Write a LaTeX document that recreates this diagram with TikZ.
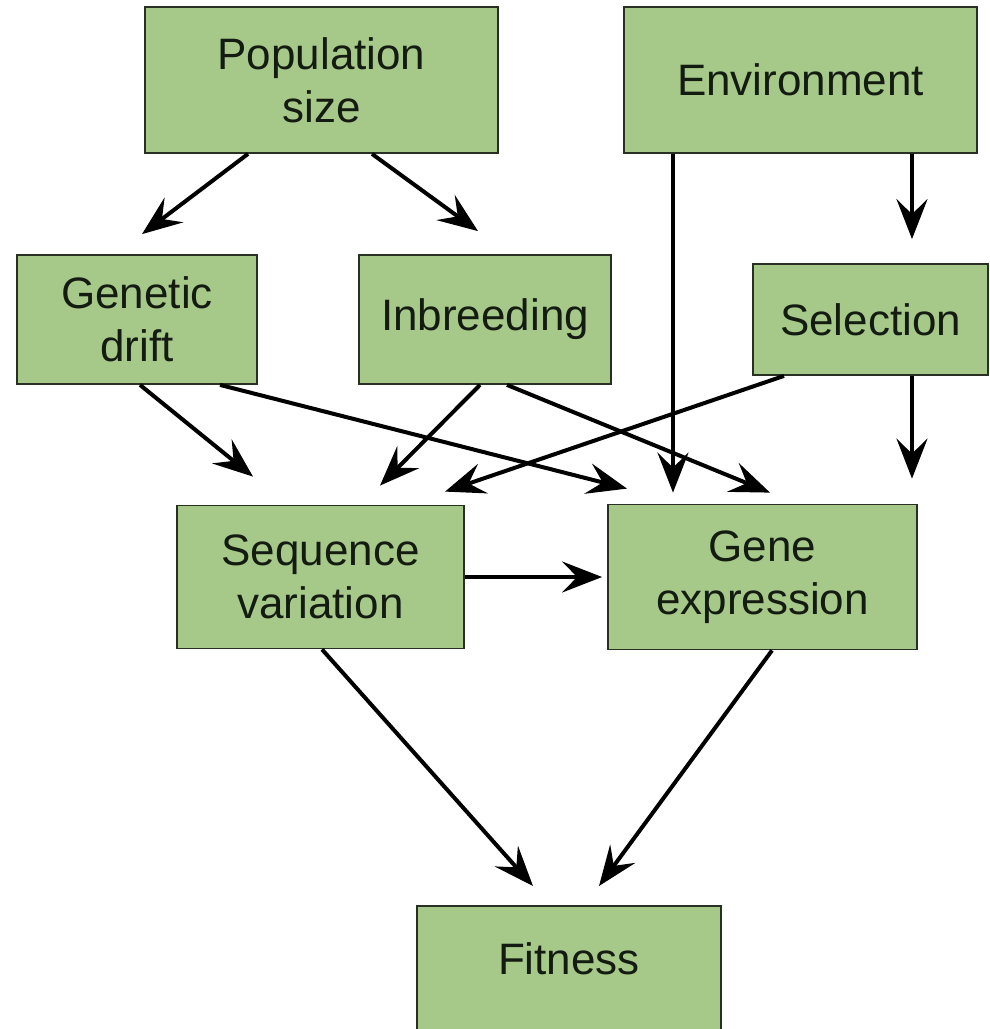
\documentclass[tikz,border=0pt]{standalone}
\usepackage{fontspec}
\setmainfont{Liberation Sans}
\usetikzlibrary{arrows.meta}
\definecolor{boxgreen}{RGB}{166,201,138}
\definecolor{boxedge}{RGB}{40,48,36}
\definecolor{txt}{RGB}{20,28,18}
\begin{document}
\begin{tikzpicture}[x=1pt,y=1pt,
  box/.style={draw=boxedge, line width=1.8pt, fill=boxgreen, inner sep=0pt, align=center,
    text=txt, font=\fontsize{44}{53}\selectfont},
  arr/.style={line width=4pt, black, -{Stealth[length=40pt,width=31pt,inset=15pt]}}]
\useasboundingbox (0,0) rectangle (989,-1029);
\node[box, minimum width=353pt, minimum height=146pt] (pop) at (321.5,-80) {Population\\size};
\node[box, minimum width=353pt, minimum height=146pt] (env) at (800.5,-80) {Environment};
\node[box, minimum width=240pt, minimum height=129pt] (drift) at (137,-319.5) {Genetic\\drift};
\node[box, minimum width=252pt, minimum height=129pt] (inb) at (485,-319.5) {Inbreeding};
\node[box, minimum width=235pt, minimum height=111pt] (sel) at (870.5,-319.5) {Selection};
\node[box, minimum width=287pt, minimum height=143pt] (seq) at (320.5,-577) {Sequence\\variation};
\node[box, minimum width=309pt, minimum height=145pt] (gene) at (762.5,-577) {Gene\\expression};
\node[box, minimum width=304pt, text height=69pt, text depth=66pt, anchor=north] (fit) at (569,-905) {Fitness};

\draw[arr] ([xshift=-73.5pt]pop.south) -- ([xshift=5pt,yshift=20pt]drift.north);
\draw[arr] ([xshift=50.5pt]pop.south) -- ([xshift=-7pt,yshift=23pt]inb.north);
\draw[arr] ([xshift=-127.5pt]env.south) -- ([xshift=-89.5pt,yshift=11pt]gene.north);
\draw[arr] ([xshift=111.5pt]env.south) -- ([xshift=41.5pt,yshift=24pt]sel.north);
\draw[arr] ([xshift=3pt]drift.south) -- ([xshift=-67.5pt,yshift=28pt]seq.north);
\draw[arr] ([xshift=83pt]drift.south) -- ([xshift=-135.5pt,yshift=15pt]gene.north);
\draw[arr] ([xshift=-5pt]inb.south) -- ([xshift=59.5pt,yshift=19pt]seq.north);
\draw[arr] ([xshift=22pt]inb.south) -- ([xshift=7.5pt,yshift=11pt]gene.north);
\draw[arr] ([xshift=-86.5pt]sel.south) -- ([xshift=124.5pt,yshift=13pt]seq.north);
\draw[arr] ([xshift=41.5pt]sel.south) -- ([xshift=149.5pt,yshift=25pt]gene.north);
\draw[arr] (seq.east) -- ([xshift=-5pt]gene.west);
\draw[arr] ([xshift=1.5pt]seq.south) -- ([xshift=-36pt,yshift=19pt]fit.north);
\draw[arr] ([xshift=9.5pt]gene.south) -- ([xshift=30pt,yshift=19pt]fit.north);
\end{tikzpicture}
\end{document}
